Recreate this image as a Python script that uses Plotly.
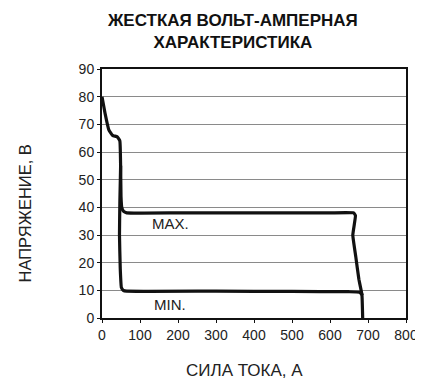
import plotly.graph_objects as go

# MAX curve (voltage vs current)
max_current = [0, 8, 18, 28, 40, 47, 49, 50, 52, 57, 65, 200, 400, 600, 662, 667, 660, 668, 676, 684, 686]
max_voltage = [80, 74, 68, 66, 65.5, 64, 55, 44, 40, 38.5, 38, 38, 38, 38, 38, 37, 30, 22, 14, 8.5, 0]

# MIN curve
min_current = [49, 47, 46, 48, 51, 56, 65, 300, 500, 650, 678, 686]
min_voltage = [55, 42, 30, 18, 11, 10, 9.7, 9.7, 9.6, 9.5, 9.3, 8.2]

x_ticks = [0, 100, 200, 300, 400, 500, 600, 700, 800]
y_ticks = [0, 10, 20, 30, 40, 50, 60, 70, 80, 90]

title_text = "ЖЕСТКАЯ ВОЛЬТ-АМПЕРНАЯ<br>ХАРАКТЕРИСТИКА"
x_title = "СИЛА ТОКА, А"
y_title = "НАПРЯЖЕНИЕ, В"
labels = ["MAX.", "MIN."]
label_x = [181, 178]
label_y = [34.2, 4.9]

font_family = "Liberation Sans, Arial, sans-serif"

fig = go.Figure()
fig.add_trace(go.Scatter(x=max_current, y=max_voltage, mode="lines",
                         line=dict(color="#111111", width=3.2, shape="spline", smoothing=0.3),
                         hoverinfo="skip", showlegend=False))
fig.add_trace(go.Scatter(x=min_current, y=min_voltage, mode="lines",
                         line=dict(color="#111111", width=3.2, shape="spline", smoothing=0.3),
                         hoverinfo="skip", showlegend=False))

for t, xx, yy in zip(labels, label_x, label_y):
    fig.add_annotation(x=xx, y=yy, text=t, showarrow=False,
                       font=dict(family=font_family, size=15, color="#222222"))

# Title and axis titles as paper annotations
fig.add_annotation(xref="paper", yref="paper", x=0.428, y=1.15, xanchor="center",
                   yanchor="middle", showarrow=False, text="<b>" + title_text + "</b>",
                   font=dict(family=font_family, size=17, color="#111111"))
fig.add_annotation(xref="paper", yref="paper", x=0.47, y=-0.21, xanchor="center",
                   yanchor="middle", showarrow=False, text=x_title,
                   font=dict(family=font_family, size=17, color="#222222"))
fig.add_annotation(xref="paper", yref="paper", x=-0.253, y=0.42, xanchor="center",
                   yanchor="middle", showarrow=False, text=y_title, textangle=-90,
                   font=dict(family=font_family, size=16.5, color="#222222"))

fig.update_layout(
    width=415, height=373,
    margin=dict(l=94, r=17, t=61, b=63),
    paper_bgcolor="white", plot_bgcolor="white",
    font=dict(family=font_family, color="#222222"),
    xaxis=dict(range=[0, 800], tickvals=x_ticks, ticktext=[str(v) for v in x_ticks],
               showgrid=False, zeroline=False, showline=True, linecolor="#111111",
               linewidth=2, mirror=True, ticks="outside", ticklen=3, tickwidth=1,
               tickcolor="#111111", tickfont=dict(size=14, color="#222222"),
               automargin=False),
    yaxis=dict(range=[0, 90], tickvals=y_ticks, ticktext=[str(v) for v in y_ticks],
               showgrid=True, gridcolor="#8a8a8a", gridwidth=1.3, zeroline=False,
               showline=True, linecolor="#111111", linewidth=2, mirror=True,
               ticks="outside", ticklen=3, tickwidth=1, tickcolor="#111111",
               tickfont=dict(size=14, color="#222222"), automargin=False),
)

fig.write_html("out.html")
